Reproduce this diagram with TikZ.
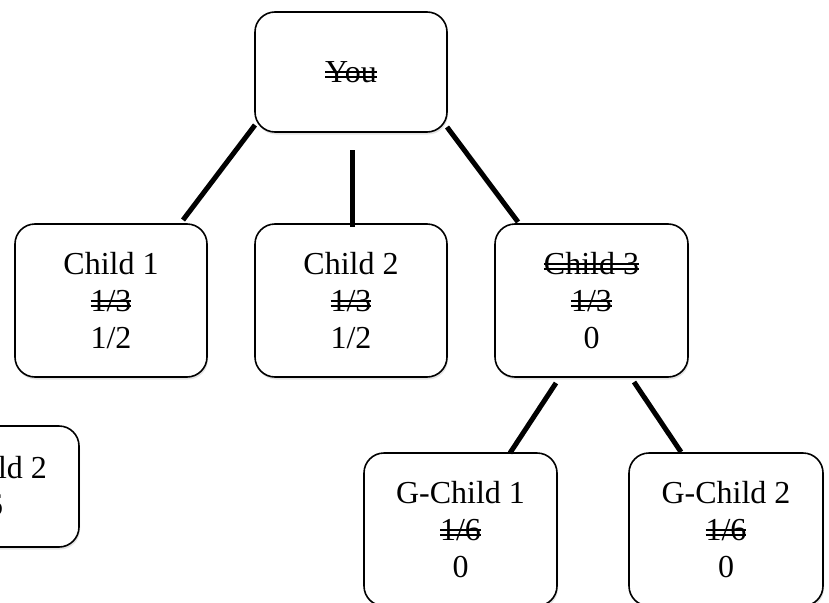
\documentclass[tikz,border=0pt]{standalone}
\usepackage{fontspec}
\setmainfont{Liberation Serif}
\usetikzlibrary{shadows}
\newsavebox\dstbox
\newcommand\dst[1]{\sbox\dstbox{#1}\rlap{\usebox\dstbox}\rlap{\rule[0.14em]{\wd\dstbox}{0.05em}}\rule[0.30em]{\wd\dstbox}{0.05em}}
\begin{document}
\begin{tikzpicture}[x=1pt,y=-1pt,
  famnode/.style={draw=black, line width=1.6pt, rounded corners=20pt, fill=white,
    align=center, inner sep=0pt, font=\fontsize{32}{37}\selectfont,
    drop shadow={shadow xshift=1pt, shadow yshift=-2.5pt, fill=black!22}},
  link/.style={line width=5pt, black}]
\useasboundingbox (0,0) rectangle (829,602);
\clip (0,0) rectangle (829,602);
\node[famnode, minimum width=192pt, minimum height=120pt] (you) at (351,72) {\dst{You}};
\node[famnode, minimum width=192pt, minimum height=153pt] (c1) at (111,300.5) {Child 1\\\dst{1/3}\\1/2};
\node[famnode, minimum width=192pt, minimum height=153pt] (c2) at (351,300.5) {Child 2\\\dst{1/3}\\1/2};
\node[famnode, minimum width=193pt, minimum height=153pt] (c3) at (591.5,300.5) {\dst{Child 3}\\\dst{1/3}\\0};
\node[famnode, minimum width=193pt, minimum height=153pt] (g1) at (460.5,529.5) {G-Child 1\\\dst{1/6}\\0};
\node[famnode, minimum width=194pt, minimum height=153pt] (g2) at (726,529.5) {G-Child 2\\\dst{1/6}\\0};
\node[famnode, minimum width=193pt, minimum height=121pt] (lg) at (-17.5,486.5) {G-Child 2\\1/6};
\coordinate (l1a) at (255,125);
\coordinate (l1b) at (183,220);
\coordinate (l2a) at (352,150);
\coordinate (l2b) at (352,227);
\coordinate (l3a) at (447,127);
\coordinate (l3b) at (518,222);
\coordinate (l4a) at (556,383);
\coordinate (l4b) at (510,453);
\coordinate (l5a) at (634,382);
\coordinate (l5b) at (681,452);
\draw[link] (l1a) -- (l1b);
\draw[link] (l2a) -- (l2b);
\draw[link] (l3a) -- (l3b);
\draw[link] (l4a) -- (l4b);
\draw[link] (l5a) -- (l5b);
\end{tikzpicture}
\end{document}
